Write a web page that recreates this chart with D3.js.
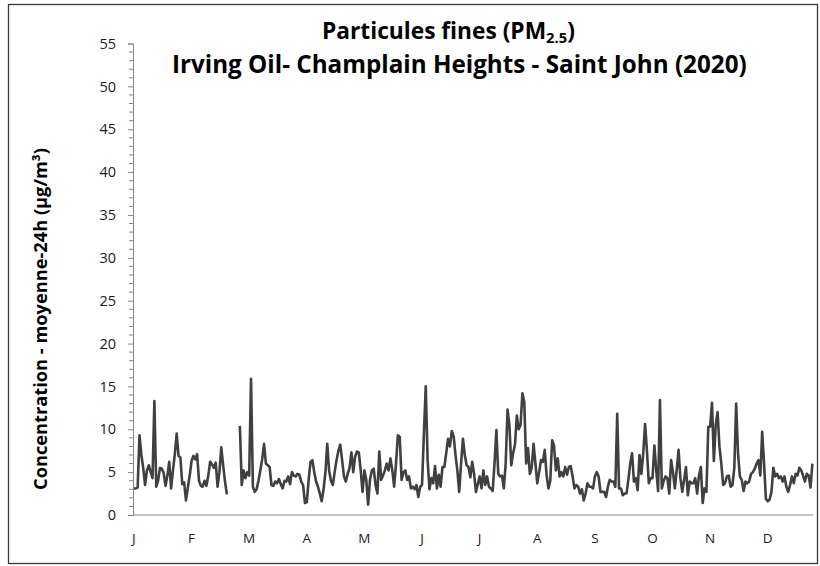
<!DOCTYPE html>
<html><head><meta charset="utf-8">
<script src="https://cdn.jsdelivr.net/npm/d3@7"></script>
<style>body{margin:0;background:#fff} svg{display:block}</style>
</head><body><svg id="c" width="820" height="566"></svg>
<script>
const year = 2020;
const monthLabels = ["J","F","M","A","M","J","J","A","S","O","N","D"];
const labelStep = 31;
const yTicks = [0,5,10,15,20,25,30,35,40,45,50,55];
const titleLine1 = "Particules fines (PM";
const titleSub = "2.5";
const titleLine2 = "Irving Oil- Champlain Heights - Saint John (2020)";
const yLabel = "Concentration - moyenne-24h (µg/m³)";
// daily 24h mean PM2.5 (µg/m³), 2020-01-01 .. 2020-12-31 (null = no data)
const pm25 = [
3.1,3.1,3.2,9.3,7.0,5.5,3.5,5.2,5.8,5.0,
4.3,13.3,3.3,4.0,5.5,5.4,4.9,3.4,4.6,6.2,
3.1,5.2,7.1,9.5,6.9,6.7,3.6,3.8,1.7,3.2,
4.6,6.3,6.9,6.5,7.1,4.0,3.4,3.3,4.0,3.4,
4.6,6.2,5.9,5.5,6.1,3.3,5.0,7.9,5.8,3.9,
2.4,
null,null,null,null,null,null,
10.4,3.5,5.2,4.3,5.0,4.6,15.9,
3.3,2.7,3.0,4.0,5.2,6.5,8.3,6.0,5.8,5.6,
3.5,3.4,3.9,3.7,4.2,3.6,3.1,4.0,3.9,4.5,
3.6,5.0,4.6,4.5,4.8,4.7,3.9,3.5,1.4,1.5,
4.1,6.2,6.4,5.0,3.9,3.3,2.5,1.6,3.0,4.9,
8.3,5.2,4.0,3.5,5.0,6.4,7.5,8.2,6.4,4.5,
3.9,4.8,5.5,7.3,5.0,6.8,7.4,7.3,5.2,2.7,
5.2,4.1,1.2,4.1,5.2,5.4,3.5,2.5,7.4,4.1,
4.6,5.2,6.0,5.2,6.6,5.2,3.3,6.0,9.3,9.1,
4.1,5.0,5.2,4.1,4.5,3.1,3.3,3.0,3.5,2.1,
3.3,3.5,9.5,15.0,6.4,3.0,4.3,3.7,5.7,3.1,
4.7,3.3,5.6,5.6,7.2,8.9,8.0,9.8,9.2,7.0,
5.2,2.7,6.0,8.9,7.0,5.8,5.6,4.4,6.2,4.8,
2.7,3.6,4.5,3.1,5.2,3.5,4.5,3.3,3.1,2.8,
6.0,9.9,4.8,4.5,4.6,3.1,6.0,12.3,10.5,5.8,
7.2,8.2,11.6,10.0,10.5,14.2,13.2,6.0,7.8,4.8,
5.5,8.3,6.0,3.7,5.0,6.4,6.2,7.6,4.7,3.1,
4.0,8.7,8.1,5.2,6.6,4.5,5.0,4.5,5.6,4.7,
5.6,5.7,4.5,3.1,3.5,3.3,2.5,3.0,1.7,2.5,
3.7,3.3,3.3,3.1,4.5,5.0,4.5,2.7,2.7,2.7,
2.1,3.3,4.1,3.9,3.9,3.3,11.8,3.1,3.1,2.3,
2.5,2.5,4.1,6.0,7.2,3.9,4.3,2.9,7.0,4.8,
7.2,10.6,7.5,3.7,4.3,4.3,8.1,5.2,2.8,13.4,
3.1,4.0,4.5,4.3,2.5,6.4,5.0,3.1,5.2,7.6,
4.3,2.7,4.1,5.6,2.3,3.9,3.7,3.7,4.3,2.5,
4.6,5.6,1.4,3.1,2.7,10.3,10.3,13.1,6.3,10.5,
12.0,8.0,6.0,3.5,3.7,4.5,4.6,3.3,3.5,5.5,
13.0,7.2,4.5,4.1,2.8,3.9,3.7,3.9,4.8,5.0,
5.4,6.0,6.4,4.6,9.7,6.0,1.9,1.6,1.8,2.7,
5.5,4.5,4.8,4.3,4.5,3.9,4.5,3.3,2.7,3.5,
4.5,3.7,4.8,4.6,5.5,5.2,4.6,3.9,4.8,4.6,3.2,6.0
];

const days = d3.timeDay.range(new Date(year,0,1), new Date(year+1,0,1));
const svg = d3.select("#c");
const font = "'Open Sans', Lato, sans-serif";
const textCol = "#1a1a1a";

// frame
svg.append("rect").attr("x",8.5).attr("y",4.5).attr("width",809).attr("height",559)
  .attr("fill","#fff").attr("stroke","#3a3a3a").attr("stroke-width",1.3);

const x = d3.scaleBand().domain(d3.range(days.length)).range([133, 813.3]).paddingInner(0).paddingOuter(0);
const y = d3.scaleLinear().domain([0,55]).range([515, 43.5]);
const xc = i => x(i) + x.bandwidth()/2;

// y axis
const yAxis = d3.axisLeft(y).tickValues(yTicks).tickSize(5).tickPadding(12);
const gy = svg.append("g").attr("transform","translate(133,0)").call(yAxis);
gy.select(".domain").attr("stroke","#868686");
gy.selectAll(".tick line").attr("stroke","#868686");
gy.selectAll(".tick text").attr("font-family",font).attr("font-size",14.5).attr("fill",textCol);
// minor ticks
const minor = d3.range(0,56).filter(v => v % 5 !== 0);
svg.append("g").selectAll("line").data(minor).join("line")
  .attr("x1",129).attr("x2",133).attr("y1",d=>y(d)).attr("y2",d=>y(d))
  .attr("stroke","#868686");

// x axis
svg.append("line").attr("x1",133).attr("x2",813.3).attr("y1",y(0)).attr("y2",y(0))
  .attr("stroke","#868686").attr("stroke-width",1.2);
const labelIdx = d3.range(0, days.length, labelStep);
svg.append("g").selectAll("text").data(labelIdx).join("text")
  .attr("x", i => xc(i)).attr("y", 543)
  .attr("text-anchor","middle").attr("font-family",font).attr("font-size",13.5).attr("fill",textCol)
  .text(i => monthLabels[days[i].getMonth()]);

// line
const line = d3.line().defined(v => v != null).x((v,i) => xc(i)).y(v => y(v));
svg.append("path").datum(pm25).attr("d", line).attr("fill","none")
  .attr("stroke","#404040").attr("stroke-width",2.6).attr("stroke-linejoin","round");

// titles
function fitText(sel, target){
  const w = sel.node().getComputedTextLength();
  const fs = parseFloat(sel.attr("font-size"));
  sel.attr("font-size", fs*target/w);
}
const t1 = svg.append("text").attr("x",322).attr("y",39).attr("font-family",font)
  .attr("font-weight","bold").attr("font-size",20).attr("fill","#000");
t1.append("tspan").text(titleLine1);
t1.append("tspan").attr("font-size","0.65em").attr("dy",4).text(titleSub);
t1.append("tspan").attr("dy",-4).text(")");
fitText(t1, 253);
const t2 = svg.append("text").attr("x",172).attr("y",73).attr("font-family",font)
  .attr("font-weight","bold").attr("font-size",20).attr("fill","#000").text(titleLine2);
fitText(t2, 575);

const yl = svg.append("text").attr("transform","translate(47,319) rotate(-90)")
  .attr("text-anchor","middle").attr("font-family",font).attr("font-weight","bold")
  .attr("font-size",16).attr("fill","#000").text(yLabel);
fitText(yl, 342);
</script></body></html>
